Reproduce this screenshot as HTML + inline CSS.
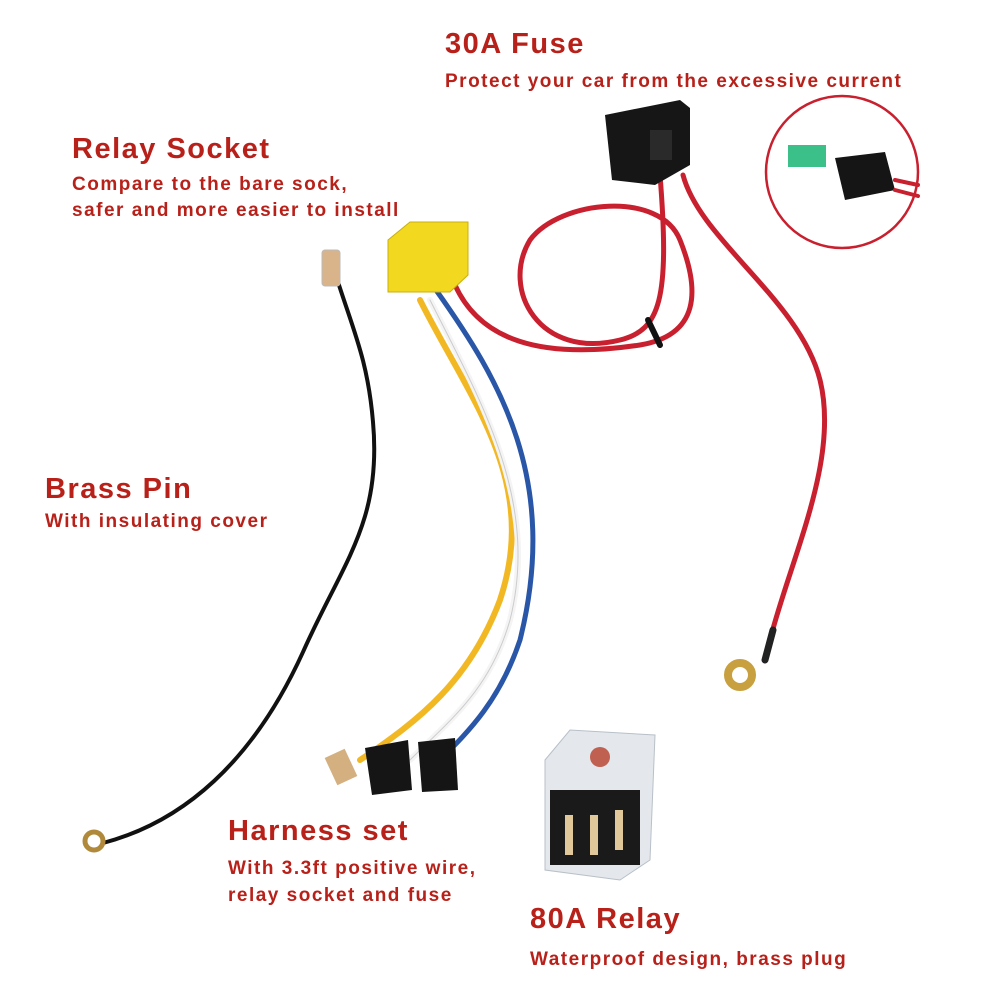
<!DOCTYPE html>
<html><head><meta charset="utf-8"><style>
html,body{margin:0;padding:0;background:#fff;}
.t{position:absolute;font-family:"Liberation Sans","DejaVu Sans",sans-serif;font-weight:bold;color:#b8211a;white-space:nowrap;}
.h{font-size:29px;letter-spacing:1.5px;}
.s{font-size:19px;letter-spacing:1.5px;}
</style></head><body>
<div style="position:relative;width:1000px;height:1000px;overflow:hidden">
<svg width="1000" height="1000" style="position:absolute;left:0;top:0" fill="none" stroke-linecap="round">
<path d="M335 280 C 350 330, 365 360, 370 420 C 380 520, 340 560, 300 650 C 250 760, 180 820, 100 840" stroke="#fff" stroke-width="7"/>
<path d="M338 282 C 354 332, 368 362, 373 422 C 382 522, 343 562, 303 652 C 253 762, 183 822, 103 843" stroke="#111" stroke-width="4"/>
<rect x="322" y="250" width="18" height="36" rx="3" fill="#d9b38a" stroke="#bbb"/>
<circle cx="94" cy="841" r="9" stroke="#b08a3a" stroke-width="5"/>
<path d="M420 300 C 470 400, 540 480, 500 600 C 470 680, 420 720, 360 760" stroke="#f2b824" stroke-width="6"/>
<path d="M430 300 C 480 400, 540 500, 510 620 C 490 690, 450 720, 410 760" stroke="#f4f4f4" stroke-width="6"/>
<path d="M430 300 C 480 400, 540 500, 510 620 C 490 690, 450 720, 410 760" stroke="#ccc" stroke-width="1"/>
<path d="M436 290 C 500 380, 560 480, 520 640 C 500 700, 470 730, 440 760" stroke="#2a56a8" stroke-width="5"/>
<path d="M455 285 C 480 340, 540 360, 640 345 C 700 335, 700 290, 680 240 C 660 190, 560 200, 530 240 C 500 290, 540 360, 620 340 C 660 330, 670 300, 660 175" stroke="#c8202e" stroke-width="5"/>
<path d="M683 175 C 700 240, 800 300, 820 380 C 840 460, 790 560, 770 640" stroke="#c8202e" stroke-width="5"/>
<path d="M773 630 L 765 660" stroke="#222" stroke-width="7"/>
<circle cx="740" cy="675" r="12" stroke="#c8a040" stroke-width="8"/>
<path d="M648 320 L 660 345" stroke="#111" stroke-width="6"/>
<path d="M388 240 L 410 222 L 468 222 L 468 275 L 450 292 L 388 292 Z" fill="#f2d81e" stroke="#c8b010"/>
<path d="M605 115 L 680 100 L 690 108 L 690 165 L 655 185 L 612 180 Z" fill="#161616"/>
<rect x="650" y="130" width="22" height="30" fill="#2a2a2a"/>
<circle cx="842" cy="172" r="76" stroke="#c8202e" stroke-width="2.5" fill="#fff"/>
<rect x="788" y="145" width="38" height="22" fill="#3cc08a"/>
<path d="M835 158 L 885 152 L 895 190 L 845 200 Z" fill="#151515"/>
<path d="M895 180 L 918 185 M895 190 L 918 196" stroke="#c8202e" stroke-width="4"/>
<rect x="330" y="752" width="22" height="30" fill="#d4b080" transform="rotate(-25 341 767)"/>
<path d="M365 748 L 408 740 L 412 790 L 372 795 Z" fill="#151515"/>
<path d="M418 742 L 455 738 L 458 790 L 422 792 Z" fill="#151515"/>
<path d="M545 760 L 570 730 L 655 735 L 650 860 L 620 880 L 545 870 Z" fill="#e4e8ec" stroke="#b8c0c8"/>
<rect x="550" y="790" width="90" height="75" fill="#1a1a1a"/>
<rect x="565" y="815" width="8" height="40" fill="#e0c89a"/>
<rect x="590" y="815" width="8" height="40" fill="#e0c89a"/>
<rect x="615" y="810" width="8" height="40" fill="#e0c89a"/>
<circle cx="600" cy="757" r="10" fill="#c06050"/>
</svg>
<div class="t h" style="left:445px;top:28px">30A Fuse</div>
<div class="t s" style="left:445px;top:71px">Protect your car from the excessive current</div>
<div class="t h" style="left:72px;top:133px">Relay Socket</div>
<div class="t s" style="left:72px;top:174px">Compare to the bare sock,</div>
<div class="t s" style="left:72px;top:200px">safer and more easier to install</div>
<div class="t h" style="left:45px;top:473px">Brass Pin</div>
<div class="t s" style="left:45px;top:511px">With insulating cover</div>
<div class="t h" style="left:228px;top:815px">Harness set</div>
<div class="t s" style="left:228px;top:858px">With 3.3ft positive wire,</div>
<div class="t s" style="left:228px;top:885px">relay socket and fuse</div>
<div class="t h" style="left:530px;top:903px">80A Relay</div>
<div class="t s" style="left:530px;top:949px">Waterproof design, brass plug</div>
</div>
</body></html>
